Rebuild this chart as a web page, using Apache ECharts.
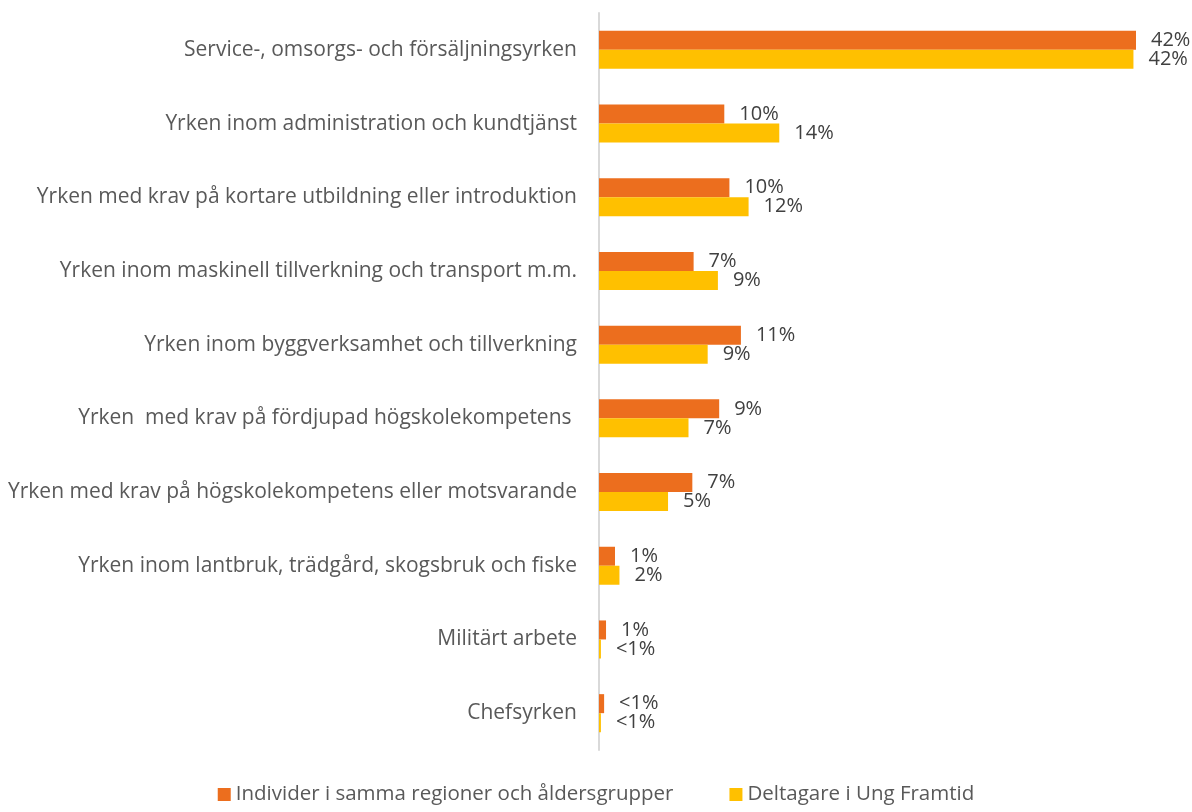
<!DOCTYPE html>
<html>
<head>
<meta charset="utf-8">
<script src="https://cdn.jsdelivr.net/npm/echarts@6/dist/echarts.min.js"></script>
<style>
  html, body { margin: 0; padding: 0; background: #fff; }
  #chart { width: 1192px; height: 812px; }
</style>
</head>
<body>
<div id="chart"></div>
<script>
// categories, top to bottom
const categories = [
  "Service-, omsorgs- och försäljningsyrken",
  "Yrken inom administration och kundtjänst",
  "Yrken med krav på kortare utbildning eller introduktion",
  "Yrken inom maskinell tillverkning och transport m.m.",
  "Yrken inom byggverksamhet och tillverkning",
  "Yrken  med krav på fördjupad högskolekompetens ",
  "Yrken med krav på högskolekompetens eller motsvarande",
  "Yrken inom lantbruk, trädgård, skogsbruk och fiske",
  "Militärt arbete",
  "Chefsyrken"
];
const seriesNames = ["Individer i samma regioner och åldersgrupper", "Deltagare i Ung Framtid"];

// percent values
const individer = [42.0, 9.8, 10.2, 7.4, 11.1, 9.4, 7.3, 1.25, 0.55, 0.4];
const deltagare = [41.8, 14.1, 11.7, 9.3, 8.5, 7.0, 5.4, 1.6, 0.15, 0.15];

// printed labels
const individerLabels = ["42%", "10%", "10%", "7%", "11%", "9%", "7%", "1%", "1%", "<1%"];
const deltagareLabels = ["42%", "14%", "12%", "9%", "9%", "7%", "5%", "2%", "<1%", "<1%"];

const colors = ["#EC6E1E", "#FFC000"];
const font = "'Open Sans', Lato, sans-serif";

const chart = echarts.init(document.getElementById("chart"));

function makeSeries(name, values, labels, color) {
  return {
    name: name,
    type: "bar",
    data: values,
    barWidth: 19,
    barGap: "0%",
    itemStyle: { color: color },
    label: {
      show: true,
      position: "right",
      distance: 15,
      color: "#404040",
      fontSize: 20,
      fontFamily: font,
      formatter: function (p) { return labels[p.dataIndex]; }
    },
    animation: false
  };
}

const option = {
  grid: { left: 599, right: 56, top: 13, bottom: 62, containLabel: false },
  legend: {
    bottom: 2,
    left: "center",
    itemWidth: 13,
    itemHeight: 13,
    itemGap: 56,
    icon: "rect",
    textStyle: { color: "#595959", fontSize: 20.5, fontFamily: font },
    data: seriesNames
  },
  xAxis: {
    type: "value",
    min: 0,
    max: 42,
    show: false
  },
  yAxis: {
    type: "category",
    inverse: true,
    data: categories,
    axisLine: { show: true, lineStyle: { color: "#D9D9D9", width: 2 } },
    axisTick: { show: false },
    axisLabel: { color: "#595959", fontSize: 21, fontFamily: font, margin: 22 }
  },
  series: [
    makeSeries(seriesNames[0], individer, individerLabels, colors[0]),
    makeSeries(seriesNames[1], deltagare, deltagareLabels, colors[1])
  ]
};

chart.setOption(option);
</script>
</body>
</html>
